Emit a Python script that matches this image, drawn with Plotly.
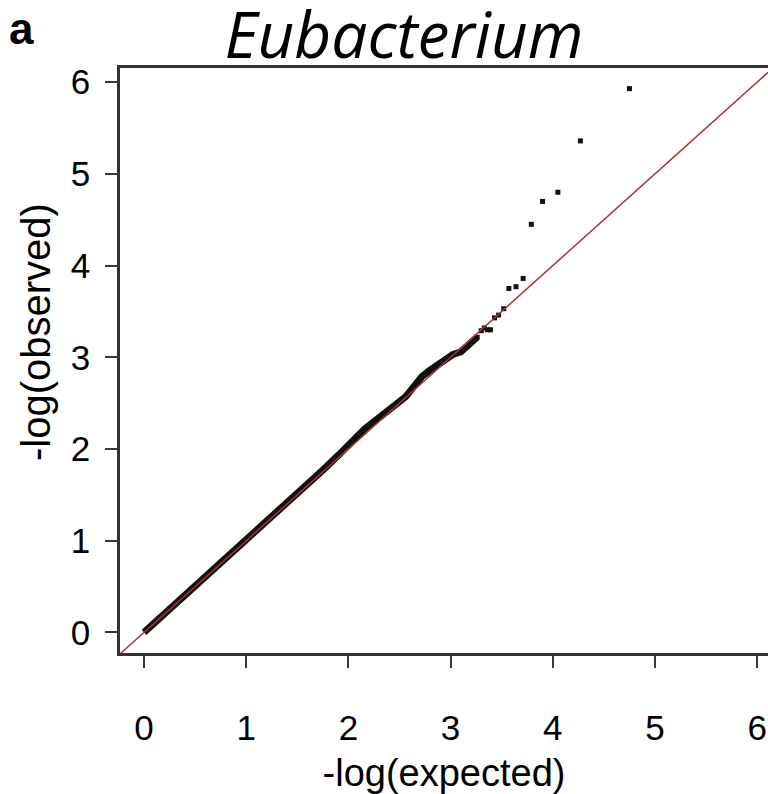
import plotly.graph_objects as go

# ---- data ----
body_expected = [0.0, 0.10, 0.25, 0.40, 0.55, 0.70, 0.85, 1.00, 1.15, 1.30, 1.45, 1.60,
                 1.75, 1.90, 2.00, 2.08, 2.16, 2.24, 2.31, 2.40, 2.48, 2.56, 2.64, 2.72,
                 2.80, 2.88, 2.95, 3.02, 3.10, 3.18, 3.26]
body_observed = [0.0, 0.10, 0.26, 0.41, 0.56, 0.71, 0.86, 1.01, 1.16, 1.31, 1.46, 1.61,
                 1.77, 1.93, 2.05, 2.14, 2.22, 2.29, 2.35, 2.41, 2.48, 2.57, 2.68, 2.79,
                 2.86, 2.92, 2.98, 3.03, 3.06, 3.14, 3.22]

tail_expected = [3.26, 3.30, 3.33, 3.36, 3.39, 3.43, 3.47, 3.52, 3.57, 3.64, 3.71, 3.79,
                 3.90, 4.05, 4.27, 4.75]
tail_observed = [3.22, 3.29, 3.32, 3.30, 3.30, 3.43, 3.46, 3.53, 3.75, 3.77, 3.86, 4.45,
                 4.70, 4.80, 5.36, 5.93]

ref_line = [-0.5, 6.5]

x_ticks = [0, 1, 2, 3, 4, 5, 6]
y_ticks = [0, 1, 2, 3, 4, 5, 6]

title_text = "Eubacterium"
panel_label = "a"
x_title = "-log(expected)"
y_title = "-log(observed)"

fig = go.Figure()

fig.add_trace(go.Scatter(
    x=body_expected, y=body_observed, mode="lines",
    line=dict(color="#111111", width=7), hoverinfo="skip", showlegend=False))

fig.add_trace(go.Scatter(
    x=tail_expected, y=tail_observed, mode="markers",
    marker=dict(symbol="square", size=5, color="#111111"), showlegend=False))

fig.add_trace(go.Scatter(
    x=ref_line, y=ref_line, mode="lines",
    line=dict(color="#a83232", width=1.5), hoverinfo="skip", showlegend=False))

sans = "Arial, Liberation Sans, sans-serif"
axis_font = dict(family=sans, size=35, color="black")

fig.update_layout(
    width=768, height=794,
    margin=dict(l=120, r=0, t=68, b=141),
    paper_bgcolor="white", plot_bgcolor="white",
    title=dict(text=title_text, x=404 / 768, xanchor="center", xref="container",
               y=1 - 36 / 794, yanchor="middle", yref="container",
               font=dict(family="Open Sans, sans-serif", size=64, color="black",
                         style="italic")),
    xaxis=dict(range=[-0.235, 6.106], tickvals=x_ticks, ticks="outside", ticklen=12,
               tickwidth=2, tickcolor="#3a3a3a", showline=True, linecolor="#333333",
               linewidth=2.5, mirror=True, showgrid=False, zeroline=False,
               tickfont=axis_font, ticklabelstandoff=30,
               title=dict(text=x_title, font=dict(family=sans, size=38, color="black"),
                          standoff=14)),
    yaxis=dict(range=[-0.225, 6.155], tickvals=y_ticks, ticks="outside", ticklen=12,
               tickwidth=2, tickcolor="#3a3a3a", showline=True, linecolor="#333333",
               linewidth=2.5, showgrid=False, zeroline=False,
               tickfont=axis_font, ticklabelstandoff=8),
    annotations=[
        dict(text="<b>" + panel_label + "</b>", xref="paper", yref="paper",
             x=-0.174, y=1.112, xanchor="left", yanchor="top", showarrow=False,
             font=dict(family="Liberation Sans, Roboto, DejaVu Sans, sans-serif",
                       size=44, color="black")),
        dict(text=y_title, xref="paper", yref="paper", textangle=-90,
             x=(36 - 120) / 648, y=(653 - 332) / 585, xanchor="center", yanchor="middle",
             showarrow=False, font=dict(family=sans, size=40, color="black")),
    ],
)

fig.write_html("out.html")
